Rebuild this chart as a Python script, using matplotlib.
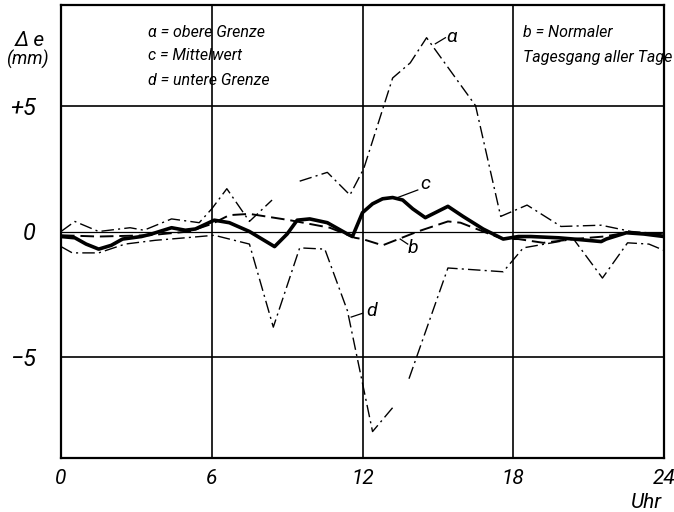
import numpy as np
import matplotlib
matplotlib.use("Agg")
import matplotlib.pyplot as plt

# ---- data ----
# a = obere Grenze (upper limit), NaN = gap in drawn line
hours_a = [0.0, 0.55, 1.5, 2.75, 3.3, 4.4, 5.5, 6.0, 6.6, 7.5, 8.4, np.nan, 9.5, 10.6, 11.5, 12.05, 13.2, 13.9, 14.55, 16.5, 17.5, 18.55, 19.9, 21.5, 22.7, 24.0]
vals_a  = [0.0, 0.4, 0.0, 0.15, 0.05, 0.5, 0.35, 0.9, 1.7, 0.4, 1.25, np.nan, 2.0, 2.35, 1.45, 2.5, 6.1, 6.7, 7.7, 5.0, 0.6, 1.05, 0.2, 0.25, 0.0, -0.1]

# b = Normaler Tagesgang aller Tage
hours_b = [0.0, 1.5, 3.5, 5.1, 6.0, 6.7, 7.5, 9.1, 10.7, 11.7, 12.0, 12.8, 14.2, 15.4, 15.9, 16.8, 17.6, 18.2, 19.2, 20.4, 21.6, 22.5, 24.0]
vals_b  = [-0.15, -0.2, -0.15, 0.0, 0.3, 0.65, 0.7, 0.45, 0.15, -0.25, -0.3, -0.55, 0.0, 0.4, 0.35, 0.0, -0.3, -0.3, -0.45, -0.3, -0.2, -0.05, -0.1]

# c = Mittelwert
hours_c = [0.0, 0.55, 1.0, 1.5, 2.0, 2.45, 3.2, 3.6, 4.4, 4.95, 5.35, 6.1, 6.7, 7.5, 8.0, 8.5, 9.0, 9.4, 9.9, 10.6, 11.4, 11.6, 12.0, 12.4, 12.8, 13.2, 13.6, 14.0, 14.5, 15.0, 15.4, 16.0, 16.8, 17.6, 18.2, 18.7, 19.8, 20.4, 21.5, 21.7, 22.5, 23.2, 24.0]
vals_c  = [-0.2, -0.25, -0.5, -0.7, -0.55, -0.3, -0.2, -0.1, 0.15, 0.05, 0.1, 0.45, 0.35, 0.0, -0.3, -0.6, -0.1, 0.45, 0.5, 0.35, -0.1, -0.2, 0.75, 1.1, 1.3, 1.35, 1.25, 0.9, 0.55, 0.8, 1.0, 0.6, 0.1, -0.3, -0.2, -0.2, -0.25, -0.3, -0.4, -0.3, -0.05, -0.1, -0.2]

# d = untere Grenze (lower limit)
hours_d = [0.0, 0.45, 1.5, 2.55, 3.75, 4.95, 6.1, 7.5, 8.45, 9.5, 10.5, 11.4, 12.4, 13.2, np.nan, 13.85, 15.4, 17.6, 18.4, 20.4, 21.55, 22.55, 23.4, 24.0]
vals_d  = [-0.6, -0.85, -0.85, -0.5, -0.35, -0.25, -0.15, -0.5, -3.8, -0.65, -0.7, -3.15, -7.95, -7.0, np.nan, -5.85, -1.45, -1.6, -0.65, -0.3, -1.85, -0.45, -0.5, -0.75]

x_ticks = [0, 6, 12, 18, 24]
y_ticks = [-5, 0, 5]
y_tick_labels = ["\u22125", "0", "+5"]

FONT = dict(family=["Roboto", "DejaVu Sans"], style="italic")

fig = plt.figure(figsize=(6.74, 5.12), dpi=100)
ax = fig.add_axes([61/674, 1-458/512, (664-61)/674, (458-5)/512])
ax.set_xlim(0, 24)
ax.set_ylim(-9, 9)

# grid
for xv in [6, 12, 18]:
    ax.axvline(xv, color="black", lw=1.2, zorder=1)
for yv in [-5, 5]:
    ax.axhline(yv, color="black", lw=1.2, zorder=1)
ax.axhline(0, color="black", lw=0.9, zorder=1)

dashdot = (0, (9, 3, 1.5, 3))
ax.plot(hours_a, vals_a, color="black", lw=1.0, linestyle=dashdot, zorder=3)
ax.plot(hours_d, vals_d, color="black", lw=1.0, linestyle=dashdot, zorder=3)
ax.plot(hours_b, vals_b, color="black", lw=1.4, linestyle=(0, (7, 3)), zorder=3)
ax.plot(hours_c, vals_c, color="black", lw=2.6, solid_joinstyle="round", zorder=4)

for s in ax.spines.values():
    s.set_linewidth(1.6)

ax.set_xticks(x_ticks)
ax.set_yticks(y_ticks)
ax.set_xticklabels([str(v) for v in x_ticks], fontsize=15, **FONT)
ax.set_yticklabels(y_tick_labels, fontsize=17, **FONT)
ax.tick_params(length=0, pad=8)
ax.tick_params(axis="y", pad=18)

# axis labels
fig.text(30/674, 1-41/512, "\u0394 e", fontsize=15, ha="center", va="center", **FONT)
fig.text(27/674, 1-59/512, "(mm)", fontsize=13, ha="center", va="center", **FONT)
fig.text(647/674, 1-503/512, "Uhr", fontsize=15, ha="center", va="center", **FONT)

# legend texts
ax.text(3.45, 7.9, "\u03b1 = obere Grenze", fontsize=11.5, ha="left", va="center", **FONT)
ax.text(3.45, 7.0, "c = Mittelwert", fontsize=11.5, ha="left", va="center", **FONT)
ax.text(3.45, 6.0, "d = untere Grenze", fontsize=11.5, ha="left", va="center", **FONT)
ax.text(18.4, 7.9, "b = Normaler", fontsize=11.5, ha="left", va="center", **FONT)
ax.text(18.4, 6.9, "Tagesgang aller Tage", fontsize=11.5, ha="left", va="center", **FONT)

# curve labels with leader lines
ax.plot([14.9, 15.3], [7.46, 7.7], color="black", lw=0.9)
ax.text(15.56, 7.74, "\u03b1", fontsize=14, ha="center", va="center", **FONT)
ax.plot([13.4, 14.2], [1.35, 1.65], color="black", lw=0.9)
ax.text(14.5, 1.9, "c", fontsize=14, ha="center", va="center", **FONT)
ax.plot([13.5, 13.8], [-0.3, -0.5], color="black", lw=0.9)
ax.text(14.0, -0.67, "b", fontsize=14, ha="center", va="center", **FONT)
ax.plot([11.55, 12.0], [-3.4, -3.25], color="black", lw=0.9)
ax.text(12.38, -3.17, "d", fontsize=14, ha="center", va="center", **FONT)

fig.savefig("out.png", dpi=100, facecolor="white")
